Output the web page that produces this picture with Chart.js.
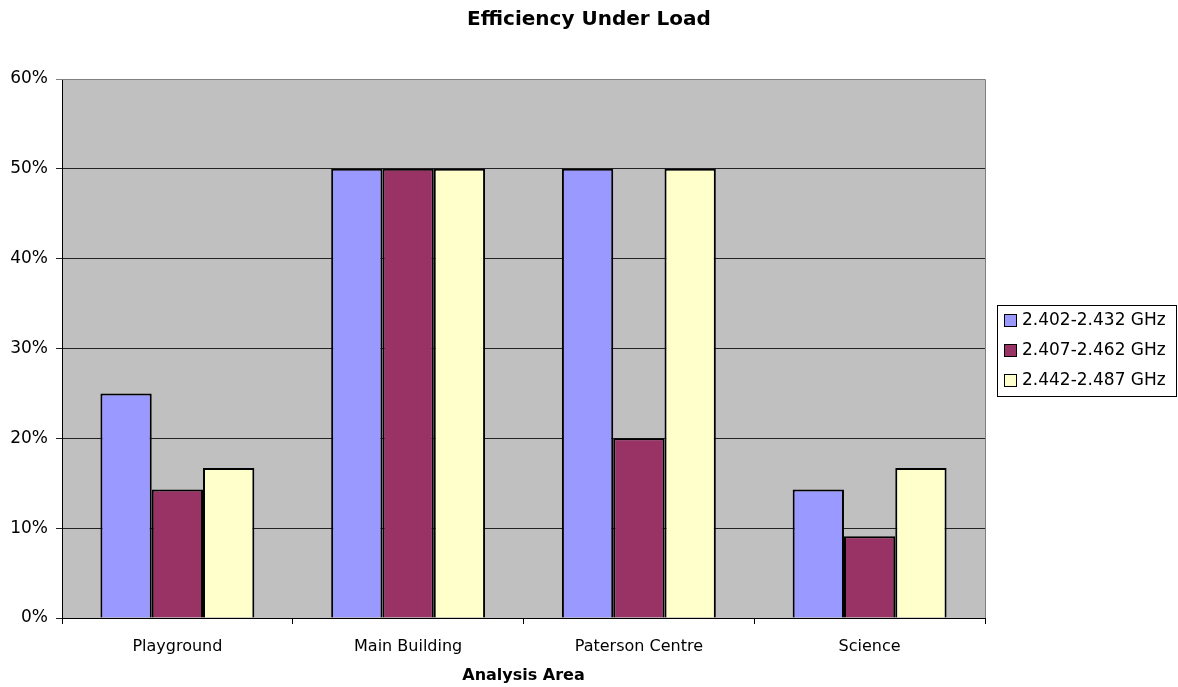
<!DOCTYPE html>
<html>
<head>
    <meta charset="UTF-8">
    <title>Efficiency Under Load</title>
    <script src="https://cdn.jsdelivr.net/npm/chart.js"></script>
    <style>
        html, body { margin: 0; padding: 0; background: #fff; }
        .chart-container { width: 1178px; height: 687px; }
    </style>
</head>
<body>
    <div class="chart-container">
        <canvas id="loadChart"></canvas>
    </div>

    <script type="text/javascript">
        // chart data
        const areas = ['Playground', 'Main Building', 'Paterson Centre', 'Science'];
        const bandLabels = ['2.402-2.432 GHz', '2.407-2.462 GHz', '2.442-2.487 GHz'];
        const band1 = [25, 50, 50, 14.3];
        const band2 = [14.3, 50, 20, 9.1];
        const band3 = [16.7, 50, 50, 16.7];
        const yTicks = [0, 10, 20, 30, 40, 50, 60];

        const barColors = ['#9999FF', '#993366', '#FFFFCC'];
        const FONT = "'DejaVu Sans', sans-serif";

        // grey plot area + border on top/right
        const plotBackground = {
            id: 'plotBackground',
            beforeDraw(chart) {
                const { ctx, chartArea: a } = chart;
                ctx.save();
                ctx.fillStyle = '#C0C0C0';
                ctx.fillRect(a.left, a.top, a.right - a.left, a.bottom - a.top);
                ctx.restore();
            },
            afterDatasetsDraw(chart) {
                const { ctx, chartArea: a } = chart;
                ctx.save();
                ctx.strokeStyle = '#808080';
                ctx.lineWidth = 1;
                ctx.beginPath();
                ctx.moveTo(a.left, a.top + 0.5);
                ctx.lineTo(a.right + 0.5, a.top + 0.5);
                ctx.lineTo(a.right + 0.5, a.bottom);
                ctx.stroke();
                ctx.restore();
            }
        };

        // boxed legend on the right
        const boxLegend = {
            id: 'boxLegend',
            afterDraw(chart) {
                const { ctx, chartArea: a } = chart;
                const left = a.right + 12, top = 305, w = 179, h = 91;
                ctx.save();
                ctx.fillStyle = '#fff';
                ctx.fillRect(left, top, w, h);
                ctx.strokeStyle = '#000';
                ctx.lineWidth = 1;
                ctx.strokeRect(left + 0.5, top + 0.5, w, h);
                ctx.font = '17px ' + FONT;
                ctx.textBaseline = 'middle';
                chart.data.datasets.forEach((ds, i) => {
                    const cy = top + 15 + i * 30;
                    ctx.fillStyle = ds.backgroundColor;
                    ctx.fillRect(left + 7, cy - 6, 13, 13);
                    ctx.strokeRect(left + 7.5, cy - 5.5, 12, 12);
                    ctx.fillStyle = '#000';
                    ctx.fillText(ds.label, left + 25, cy + 1);
                });
                ctx.restore();
            }
        };

        const ctx = document.getElementById('loadChart').getContext('2d');
        new Chart(ctx, {
            type: 'bar',
            data: {
                labels: areas,
                datasets: [band1, band2, band3].map((vals, i) => ({
                    label: bandLabels[i],
                    data: vals,
                    backgroundColor: barColors[i],
                    borderColor: '#000',
                    borderWidth: 2,
                    categoryPercentage: 0.667,
                    barPercentage: 1
                }))
            },
            options: {
                responsive: true,
                maintainAspectRatio: false,
                animation: false,
                layout: { padding: 0 },
                plugins: {
                    legend: { display: false },
                    tooltip: { enabled: false },
                    title: {
                        display: true,
                        text: 'Efficiency Under Load',
                        color: '#000',
                        font: { family: FONT, size: 20, weight: 'bold', lineHeight: 1.2 },
                        padding: { top: 8, bottom: 47 }
                    }
                },
                scales: {
                    x: {
                        grid: {
                            drawOnChartArea: false,
                            drawTicks: true,
                            tickLength: 6,
                            color: '#000'
                        },
                        border: { color: '#000' },
                        ticks: {
                            color: '#000',
                            padding: 13,
                            font: { family: FONT, size: 16 }
                        },
                        title: {
                            display: true,
                            text: 'Analysis Area',
                            color: '#000',
                            font: { family: FONT, size: 16, weight: 'bold', lineHeight: 1.2 },
                            padding: { top: 0, bottom: 2 }
                        },
                        afterFit(scale) { scale.height = 69; }
                    },
                    y: {
                        min: 0,
                        max: 60,
                        afterBuildTicks(scale) {
                            scale.ticks = yTicks.map(v => ({ value: v }));
                        },
                        grid: {
                            color: c => (c.tick && c.tick.value === 60) ? '#808080' : '#222',
                            lineWidth: 1,
                            tickLength: 6
                        },
                        border: { color: '#000' },
                        ticks: {
                            color: '#000',
                            padding: 8,
                            font: { family: FONT, size: 17 },
                            callback: v => v + '%'
                        },
                        afterFit(scale) { scale.width = 62; }
                    },
                    // empty axis that only reserves room for the legend
                    side: {
                        position: 'right',
                        min: 0,
                        max: 1,
                        grid: { display: false },
                        border: { display: false },
                        ticks: { display: false },
                        afterFit(scale) { scale.width = 193; }
                    }
                }
            },
            plugins: [plotBackground, boxLegend]
        });
    </script>
</body>
</html>
